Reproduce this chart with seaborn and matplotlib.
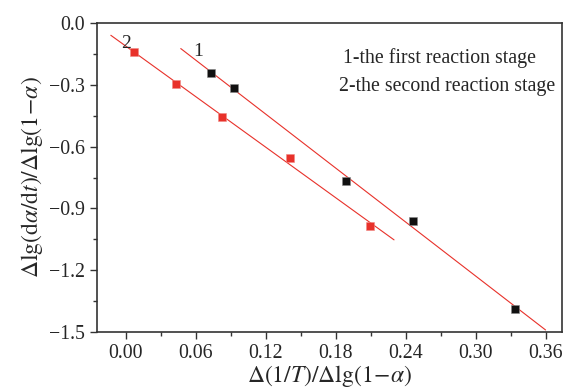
import numpy as np
import pandas as pd
import matplotlib.pyplot as plt
from matplotlib.ticker import MultipleLocator
import seaborn as sns

# stage 1 (black) and stage 2 (red) points
x1 = [0.073, 0.093, 0.189, 0.246, 0.334]
y1 = [-0.243, -0.316, -0.767, -0.961, -1.388]
x2 = [0.007, 0.043, 0.082, 0.141, 0.209]
y2 = [-0.141, -0.296, -0.456, -0.655, -0.985]

# x range covered by each fitted line
fit1_range = [0.047, 0.360]
fit2_range = [-0.013, 0.230]

xticks = [0.00, 0.06, 0.12, 0.18, 0.24, 0.30, 0.36]
yticks = [0.0, -0.3, -0.6, -0.9, -1.2, -1.5]

sns.set_style("ticks")
plt.rcParams["font.family"] = ["Liberation Serif", "DejaVu Serif"]
plt.rcParams["mathtext.fontset"] = "stix"

fig, ax = plt.subplots(figsize=(5.63, 3.91), dpi=100)
fig.subplots_adjust(left=0.172, right=0.998, top=0.941, bottom=0.151)

red = "#e8312a"

# fitted lines
for xs, ys, rng in [(x1, y1, fit1_range), (x2, y2, fit2_range)]:
    k, b = np.polyfit(xs, ys, 1)
    xf = np.array(rng)
    sns.lineplot(x=xf, y=k * xf + b, ax=ax, color=red, linewidth=0.8)

df1 = pd.DataFrame({"x": x1, "y": y1})
df2 = pd.DataFrame({"x": x2, "y": y2})
sns.scatterplot(data=df1, x="x", y="y", ax=ax, marker="s", s=36, color="#111111",
                edgecolor="#888888", linewidth=0.4, zorder=3)
sns.scatterplot(data=df2, x="x", y="y", ax=ax, marker="s", s=36, color=red,
                edgecolor="#f08a85", linewidth=0.4, zorder=3)

ax.text(0.062, -0.136, "1", fontsize=14, ha="center", va="center")
ax.text(0.0, -0.097, "2", fontsize=14, ha="center", va="center")
ax.text(0.186, -0.170, "1-the first reaction stage", fontsize=14.3, va="center")
ax.text(0.1825, -0.306, "2-the second reaction stage", fontsize=14.3, va="center")

ax.set_xlim(-0.025, 0.374)
ax.set_ylim(-1.5, 0.0)
ax.set_xticks(xticks)
ax.set_xticklabels([f"{v:.2f}" for v in xticks])
ax.set_yticks(yticks)
ax.set_yticklabels([f"{v:.1f}".replace("-", "\u2212") for v in yticks])
ax.xaxis.set_minor_locator(MultipleLocator(0.03))
ax.yaxis.set_minor_locator(MultipleLocator(0.15))
ax.tick_params(which="major", direction="out", length=5, width=1, labelsize=14.3, color="#333333")
ax.tick_params(which="minor", direction="out", length=3, width=1, color="#333333")

ax.set_xlabel(r"$\Delta(1/T)/\Delta\mathrm{lg}(1\!-\!\alpha)$", fontsize=17, labelpad=0)
ax.set_ylabel(r"$\Delta\mathrm{lg}(\mathrm{d}\alpha/\mathrm{d}t)/\Delta\mathrm{lg}(1\!-\!\alpha)$",
              fontsize=17, labelpad=3)

for sp in ax.spines.values():
    sp.set_visible(True)
    sp.set_linewidth(1.2)
    sp.set_color("#333333")

fig.savefig("out.png", dpi=100)
